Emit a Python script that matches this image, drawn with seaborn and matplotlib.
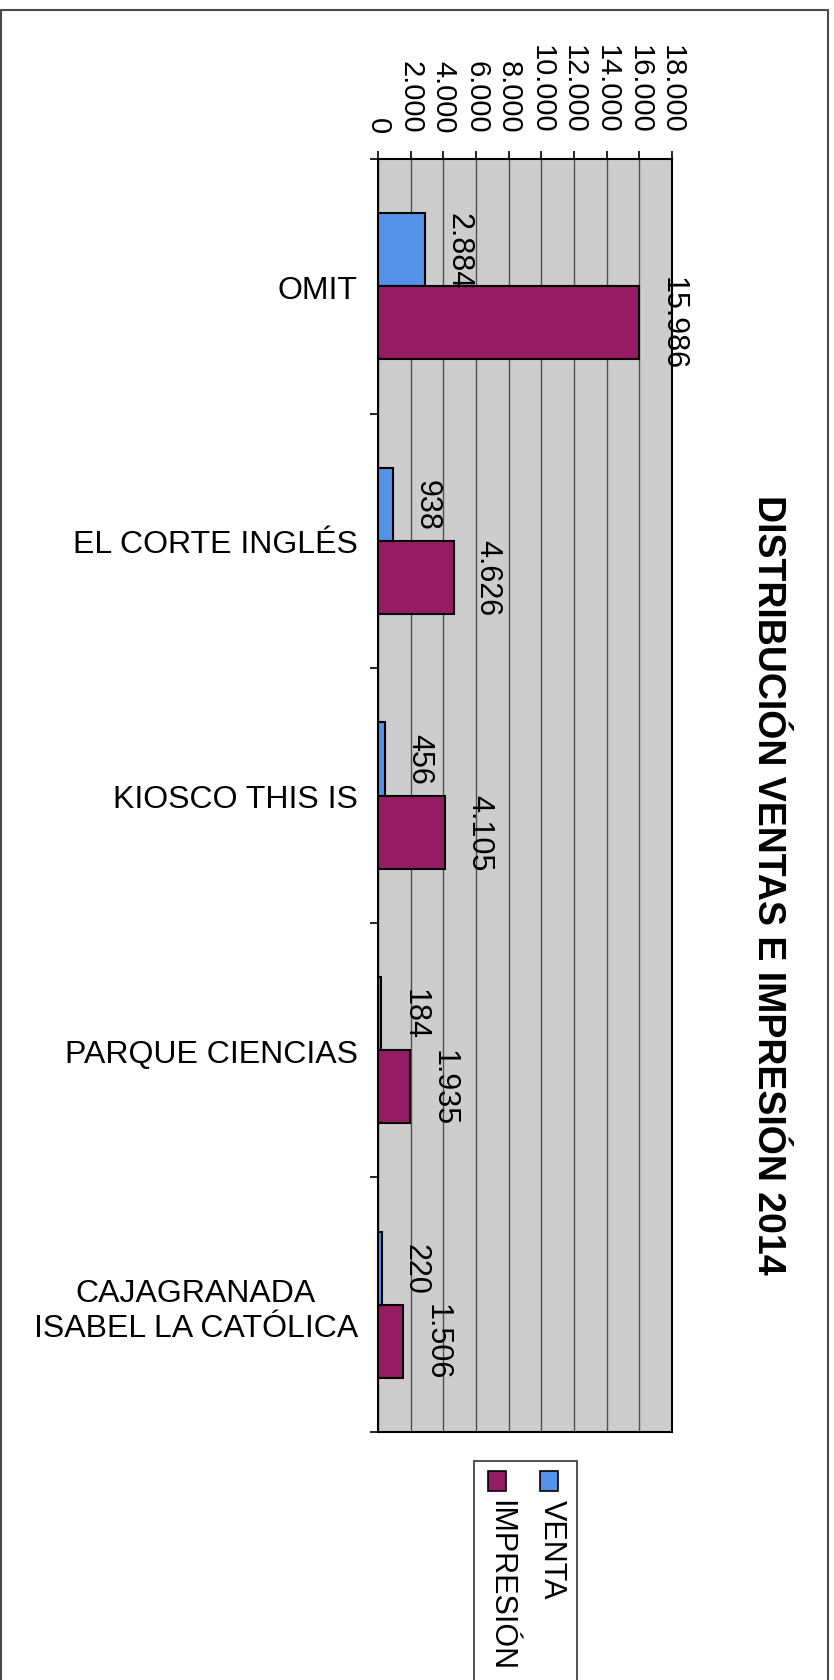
import numpy as np
import pandas as pd
import matplotlib
matplotlib.use("Agg")
import matplotlib.pyplot as plt
from matplotlib.patches import Rectangle
import seaborn as sns

# Data
categorias = ["OMIT", "EL CORTE INGLÉS", "KIOSCO THIS IS", "PARQUE CIENCIAS",
              "CAJAGRANADA\nISABEL LA CATÓLICA"]
venta = [2884, 938, 456, 184, 220]
impresion = [15986, 4626, 4105, 1935, 1506]
series = ["VENTA", "IMPRESIÓN"]
ticks_valor = [0, 2000, 4000, 6000, 8000, 10000, 12000, 14000, 16000, 18000]
titulo = "DISTRIBUCIÓN VENTAS E IMPRESIÓN 2014"

colores = ["#5592ea", "#951b63"]

df = pd.DataFrame({
    "categoria": categorias * 2,
    "serie": [series[0]] * len(categorias) + [series[1]] * len(categorias),
    "valor": venta + impresion,
})


def miles(v):
    # formato español: punto como separador de miles
    return f"{int(v):,}".replace(",", ".")


sns.set_theme(style="white")
plt.rcParams["font.family"] = ["Liberation Sans", "DejaVu Sans"]

W, H = 834, 1681
fig = plt.figure(figsize=(W / 100, H / 100), dpi=100)


def fx(x):
    return x / W


def fy(y):
    return 1 - y / H


# plot area (pixel coords of the reference)
left, right, top, bottom = 378, 672, 160, 1433
ax = fig.add_axes([fx(left), fy(bottom), fx(right) - fx(left), (bottom - top) / H])

sns.barplot(data=df, y="categoria", x="valor", hue="serie", orient="h",
            order=categorias, hue_order=series, palette=colores, saturation=1,
            width=0.575, edgecolor="black", linewidth=1.5, legend=False,
            ax=ax)

ax.set_facecolor("#cdcdcd")
ax.set_xlim(0, 18000)
ax.set_ylim(len(categorias) - 0.5, -0.5)
ax.set_xlabel("")
ax.set_ylabel("")

# value axis on top, rotated labels
ax.xaxis.tick_top()
ax.set_xticks(ticks_valor)
ax.set_xticklabels([miles(t) for t in ticks_valor], rotation=-90, fontsize=21,
                   color="black")
ax.tick_params(axis="x", which="major", direction="out", length=5.8, width=1.2,
               color="black", pad=13, top=True, bottom=False)
ax.xaxis.grid(True, color="#505050", linewidth=1.0)
ax.yaxis.grid(False)
ax.set_axisbelow(True)

# category axis
ax.tick_params(axis="y", which="major", length=0, pad=14.5, labelsize=23,
               labelcolor="black")
for t in ax.get_yticklabels():
    t.set_multialignment("center")
ax.set_yticks(np.arange(len(categorias) + 1) - 0.5, minor=True)
ax.tick_params(axis="y", which="minor", direction="out", length=5.8,
               width=1.2, color="black", left=True)

for s in ax.spines.values():
    s.set_visible(True)
    s.set_color("black")
    s.set_linewidth(1.5)

# data labels
for cont, vals in zip(ax.containers, [venta, impresion]):
    ax.bar_label(cont, labels=[miles(v) for v in vals], padding=13.5,
                 rotation=-90, fontsize=22, color="black")

# title
fig.text(fx(768), fy(885), titulo, rotation=-90, ha="center", va="center",
         fontsize=27, fontweight="bold", color="black")

# chart border (open at the bottom of the page)
fig.add_artist(Rectangle((fx(1), -0.01), fx(828) - fx(1), fy(11) + 0.01,
                         transform=fig.transFigure, fill=False,
                         edgecolor="#4a4a4a", linewidth=1.5))

# legend, drawn by hand because it is rotated
fig.add_artist(Rectangle((fx(474), -0.01), fx(577) - fx(474), fy(1462) + 0.01,
                         transform=fig.transFigure, fill=False,
                         edgecolor="#333333", linewidth=1.2))
leg_x = [549, 497]
for nombre, color, x in zip(series, colores, leg_x):
    fig.add_artist(Rectangle((fx(x - 9), fy(1492)), 18 / W, 20 / H,
                             transform=fig.transFigure, facecolor=color,
                             edgecolor="black", linewidth=1.2))
    fig.text(fx(x + 3), fy(1500), nombre, rotation=-90, ha="center", va="top",
             fontsize=22, color="black")

fig.savefig("out.png", dpi=100)
